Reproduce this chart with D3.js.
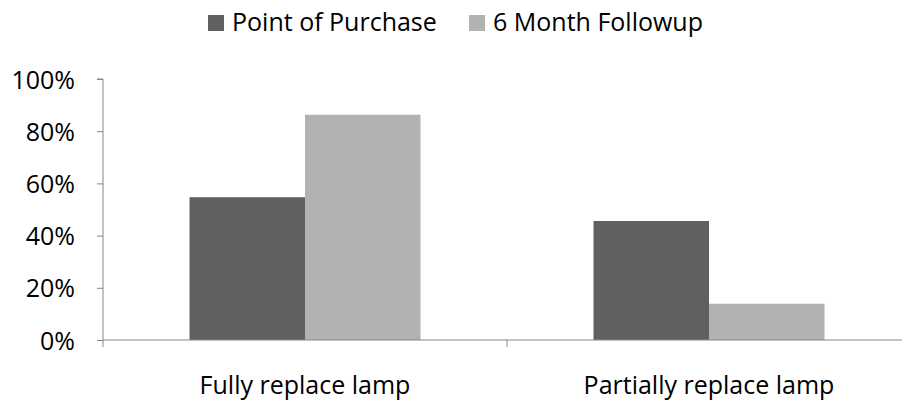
<!DOCTYPE html>
<html><head><meta charset="utf-8">
<script src="https://cdn.jsdelivr.net/npm/d3@7"></script>
<style>body{margin:0;background:#fff}svg{display:block}text{font-family:"Open Sans","Liberation Sans",sans-serif}</style>
</head><body><svg id="c" width="902" height="402"></svg>
<script>
const categories = ["Fully replace lamp", "Partially replace lamp"];
const seriesNames = ["Point of Purchase", "6 Month Followup"];
const pointOfPurchase = [0.547, 0.456];
const sixMonthFollowup = [0.863, 0.139];
const yTicks = [0, 0.2, 0.4, 0.6, 0.8, 1.0];
const colors = ["#606060", "#b2b2b2"];

const FS = 25;
const svg = d3.select("#c");
const x0 = d3.scaleBand().domain(categories).range([103, 911]).paddingInner(0).paddingOuter(0);
const y = d3.scaleLinear().domain([0, 1]).range([340, 79]);
const barsTotal = 231;
const x1 = d3.scaleBand().domain(seriesNames).range([0, x0.bandwidth()]).paddingInner(0)
  .paddingOuter(((x0.bandwidth() - barsTotal) / 2) / (barsTotal / 2));

const series = [pointOfPurchase, sixMonthFollowup];
const g = svg.append("g");
categories.forEach((c, i) => {
  seriesNames.forEach((s, j) => {
    g.append("rect")
      .attr("x", x0(c) + x1(s))
      .attr("width", x1.bandwidth())
      .attr("y", y(series[j][i]))
      .attr("height", y(0) - y(series[j][i]))
      .attr("fill", colors[j]);
  });
});

const axisColor = "#868686";
const ya = svg.append("g").attr("transform", "translate(103,0)")
  .call(d3.axisLeft(y).tickValues(yTicks).tickFormat(d3.format(".0%")).tickSize(6).tickPadding(22));
ya.select(".domain").attr("stroke", axisColor).attr("d", `M-6,${y(1)}H0V${y(0)}`);
ya.selectAll(".tick line").attr("stroke", axisColor);
ya.selectAll("text").attr("font-size", FS).attr("fill", "#000").attr("dy", "0.36em");

const xa = svg.append("g").attr("transform", "translate(0,340)")
  .call(d3.axisBottom(x0).tickSize(0).tickPadding(0));
xa.select(".domain").attr("stroke", axisColor).attr("d", "M103,0H911");
xa.selectAll("text").attr("font-size", FS).attr("fill", "#000").attr("dy", null).attr("y", 54);
const bounds = [x0.range()[0]].concat(categories.map(c => x0(c) + x0.bandwidth()));
xa.selectAll(".sep").data(bounds).enter().append("line")
  .attr("x1", d => d).attr("x2", d => d).attr("y1", 0).attr("y2", 7)
  .attr("stroke", axisColor);

const legend = svg.append("g");
const lx = [208, 469];
seriesNames.forEach((s, j) => {
  legend.append("rect").attr("x", lx[j]).attr("y", 15).attr("width", 16).attr("height", 16).attr("fill", colors[j]);
  legend.append("text").attr("x", lx[j] + 24).attr("y", 31).attr("font-size", FS).attr("fill", "#000").text(s);
});
</script></body></html>
